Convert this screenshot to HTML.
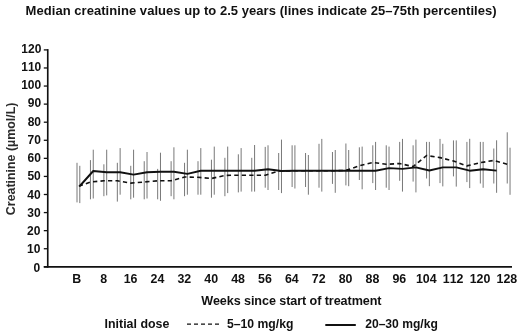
<!DOCTYPE html>
<html><head><meta charset="utf-8"><title>Median creatinine values</title>
<style>
html,body{margin:0;padding:0;background:#fff;}
body{width:520px;height:331px;overflow:hidden;}
svg{display:block;}
svg{filter:grayscale(1);}
text{font-family:"Liberation Sans",Arial,Helvetica,sans-serif;font-weight:bold;fill:#111111;}
</style></head><body>
<svg width="520" height="331" viewBox="0 0 520 331">
<rect width="520" height="331" fill="#ffffff"/>
<text x="25.6" y="14.9" font-size="13" textLength="471" lengthAdjust="spacing">Median creatinine values up to 2.5 years (lines indicate 25–75th percentiles)</text>
<g stroke="#787878" stroke-width="1" fill="none">
<line x1="77.00" y1="162.8" x2="77.00" y2="202.4"/>
<line x1="90.44" y1="160.1" x2="90.44" y2="199.3"/>
<line x1="103.89" y1="164.3" x2="103.89" y2="196.2"/>
<line x1="117.34" y1="162.8" x2="117.34" y2="201.6"/>
<line x1="130.78" y1="165.8" x2="130.78" y2="199.3"/>
<line x1="144.22" y1="161.2" x2="144.22" y2="199.3"/>
<line x1="157.67" y1="168.9" x2="157.67" y2="199.3"/>
<line x1="171.12" y1="161.2" x2="171.12" y2="196.2"/>
<line x1="184.56" y1="162.8" x2="184.56" y2="196.2"/>
<line x1="198.00" y1="161.2" x2="198.00" y2="194.7"/>
<line x1="211.45" y1="159.7" x2="211.45" y2="197.7"/>
<line x1="224.90" y1="157.8" x2="224.90" y2="196.2"/>
<line x1="238.34" y1="154.3" x2="238.34" y2="192.4"/>
<line x1="251.78" y1="157.8" x2="251.78" y2="191.6"/>
<line x1="265.23" y1="146.9" x2="265.23" y2="187.7"/>
<line x1="278.68" y1="153.0" x2="278.68" y2="190.0"/>
<line x1="292.12" y1="145.3" x2="292.12" y2="187.0"/>
<line x1="305.56" y1="153.0" x2="305.56" y2="187.0"/>
<line x1="319.01" y1="143.8" x2="319.01" y2="187.7"/>
<line x1="332.46" y1="152.0" x2="332.46" y2="183.9"/>
<line x1="345.90" y1="143.5" x2="345.90" y2="185.4"/>
<line x1="359.35" y1="147.3" x2="359.35" y2="180.0"/>
<line x1="372.79" y1="145.3" x2="372.79" y2="183.1"/>
<line x1="386.24" y1="145.3" x2="386.24" y2="187.7"/>
<line x1="399.68" y1="141.9" x2="399.68" y2="180.8"/>
<line x1="413.12" y1="145.3" x2="413.12" y2="181.6"/>
<line x1="426.57" y1="141.9" x2="426.57" y2="178.5"/>
<line x1="440.01" y1="138.9" x2="440.01" y2="183.1"/>
<line x1="453.46" y1="140.4" x2="453.46" y2="176.4"/>
<line x1="466.91" y1="141.9" x2="466.91" y2="182.1"/>
<line x1="480.35" y1="141.9" x2="480.35" y2="183.5"/>
<line x1="493.80" y1="148.5" x2="493.80" y2="183.5"/>
<line x1="507.24" y1="132.3" x2="507.24" y2="183.5"/>
<line x1="79.80" y1="165.8" x2="79.80" y2="203.1"/>
<line x1="93.25" y1="149.7" x2="93.25" y2="198.5"/>
<line x1="106.69" y1="149.7" x2="106.69" y2="195.4"/>
<line x1="120.13" y1="148.1" x2="120.13" y2="194.7"/>
<line x1="133.58" y1="149.7" x2="133.58" y2="197.7"/>
<line x1="147.02" y1="152.0" x2="147.02" y2="198.5"/>
<line x1="160.47" y1="152.7" x2="160.47" y2="200.8"/>
<line x1="173.92" y1="147.3" x2="173.92" y2="199.3"/>
<line x1="187.36" y1="149.7" x2="187.36" y2="194.7"/>
<line x1="200.81" y1="148.1" x2="200.81" y2="194.7"/>
<line x1="214.25" y1="146.6" x2="214.25" y2="194.7"/>
<line x1="227.69" y1="146.6" x2="227.69" y2="193.1"/>
<line x1="241.14" y1="148.1" x2="241.14" y2="191.6"/>
<line x1="254.58" y1="145.0" x2="254.58" y2="191.6"/>
<line x1="268.03" y1="145.3" x2="268.03" y2="190.0"/>
<line x1="281.48" y1="139.6" x2="281.48" y2="193.1"/>
<line x1="294.92" y1="145.3" x2="294.92" y2="188.5"/>
<line x1="308.37" y1="155.0" x2="308.37" y2="194.7"/>
<line x1="321.81" y1="138.9" x2="321.81" y2="191.6"/>
<line x1="335.25" y1="150.0" x2="335.25" y2="192.8"/>
<line x1="348.70" y1="150.0" x2="348.70" y2="186.2"/>
<line x1="362.15" y1="146.6" x2="362.15" y2="189.3"/>
<line x1="375.59" y1="141.9" x2="375.59" y2="190.0"/>
<line x1="389.04" y1="146.6" x2="389.04" y2="190.0"/>
<line x1="402.48" y1="138.9" x2="402.48" y2="191.6"/>
<line x1="415.93" y1="139.6" x2="415.93" y2="192.4"/>
<line x1="429.37" y1="141.9" x2="429.37" y2="186.2"/>
<line x1="442.81" y1="143.8" x2="442.81" y2="186.4"/>
<line x1="456.26" y1="140.4" x2="456.26" y2="186.6"/>
<line x1="469.71" y1="138.8" x2="469.71" y2="188.1"/>
<line x1="483.15" y1="141.9" x2="483.15" y2="187.8"/>
<line x1="496.60" y1="140.3" x2="496.60" y2="192.8"/>
<line x1="510.04" y1="147.7" x2="510.04" y2="194.8"/>
</g>
<polyline points="78.80,186.3 90.44,182.0 103.89,180.8 117.34,180.8 130.78,183.1 144.22,182.0 157.67,180.8 171.12,180.8 184.56,177.0 198.00,177.3 211.45,178.5 224.90,175.4 238.34,175.2 251.78,175.2 265.23,175.2 278.68,171.0 292.12,170.8 305.56,170.8 319.01,170.8 332.46,170.8 345.90,170.4 359.35,165.8 372.79,162.4 386.24,164.3 399.68,163.5 413.12,166.6 426.57,155.5 440.01,157.6 453.46,161.0 466.91,165.9 480.35,162.7 493.80,160.4 507.24,164.3" fill="none" stroke="#111111" stroke-width="1.6" stroke-dasharray="4.3 3.2" stroke-linejoin="round"/>
<polyline points="79.80,186.0 93.25,171.0 106.69,172.2 120.13,172.3 133.58,174.6 147.02,172.3 160.47,171.8 173.92,171.8 187.36,173.9 200.81,170.8 214.25,170.8 227.69,170.8 241.14,170.8 254.58,170.8 268.03,169.3 281.48,171.0 294.92,170.7 308.37,170.7 321.81,170.7 335.25,170.7 348.70,170.7 362.15,170.7 375.59,170.7 389.04,168.1 402.48,168.9 415.93,167.4 429.37,170.5 442.81,167.4 456.26,167.4 469.71,170.7 483.15,169.2 496.60,170.6" fill="none" stroke="#111111" stroke-width="1.9" stroke-linejoin="round" stroke-linecap="butt"/>
<g stroke="#111111" stroke-width="1.65" fill="none">
<line x1="47.75" y1="49.1" x2="47.75" y2="267.65"/>
<line x1="43.8" y1="266.8" x2="512" y2="266.8"/>
</g>
<g stroke="#111111" stroke-width="1.3" fill="none">
<line x1="43.8" y1="266.80" x2="47.5" y2="266.80"/>
<line x1="43.8" y1="248.73" x2="47.5" y2="248.73"/>
<line x1="43.8" y1="230.65" x2="47.5" y2="230.65"/>
<line x1="43.8" y1="212.58" x2="47.5" y2="212.58"/>
<line x1="43.8" y1="194.50" x2="47.5" y2="194.50"/>
<line x1="43.8" y1="176.43" x2="47.5" y2="176.43"/>
<line x1="43.8" y1="158.35" x2="47.5" y2="158.35"/>
<line x1="43.8" y1="140.28" x2="47.5" y2="140.28"/>
<line x1="43.8" y1="122.20" x2="47.5" y2="122.20"/>
<line x1="43.8" y1="104.12" x2="47.5" y2="104.12"/>
<line x1="43.8" y1="86.05" x2="47.5" y2="86.05"/>
<line x1="43.8" y1="67.97" x2="47.5" y2="67.97"/>
<line x1="43.8" y1="49.90" x2="47.5" y2="49.90"/>
</g>
<g font-size="12" style="font-kerning:none">
<text x="40.30" y="271.60" text-anchor="end">0</text>
<text x="40.39" y="253.35" text-anchor="end">10</text>
<text x="40.48" y="235.11" text-anchor="end">20</text>
<text x="40.57" y="216.86" text-anchor="end">30</text>
<text x="40.67" y="198.62" text-anchor="end">40</text>
<text x="40.76" y="180.37" text-anchor="end">50</text>
<text x="40.85" y="162.12" text-anchor="end">60</text>
<text x="40.94" y="143.88" text-anchor="end">70</text>
<text x="41.03" y="125.63" text-anchor="end">80</text>
<text x="41.12" y="107.39" text-anchor="end">90</text>
<text x="41.22" y="89.14" text-anchor="end">100</text>
<text x="41.31" y="70.89" text-anchor="end">110</text>
<text x="41.40" y="52.65" text-anchor="end">120</text>
<text x="76.80" y="282.6" text-anchor="middle" font-size="12.4">B</text>
<text x="103.68" y="282.6" text-anchor="middle" font-size="12.4">8</text>
<text x="130.56" y="282.6" text-anchor="middle" font-size="12.4">16</text>
<text x="157.44" y="282.6" text-anchor="middle" font-size="12.4">24</text>
<text x="184.32" y="282.6" text-anchor="middle" font-size="12.4">32</text>
<text x="211.20" y="282.6" text-anchor="middle" font-size="12.4">40</text>
<text x="238.08" y="282.6" text-anchor="middle" font-size="12.4">48</text>
<text x="264.96" y="282.6" text-anchor="middle" font-size="12.4">56</text>
<text x="291.84" y="282.6" text-anchor="middle" font-size="12.4">64</text>
<text x="318.72" y="282.6" text-anchor="middle" font-size="12.4">72</text>
<text x="345.60" y="282.6" text-anchor="middle" font-size="12.4">80</text>
<text x="372.48" y="282.6" text-anchor="middle" font-size="12.4">88</text>
<text x="399.36" y="282.6" text-anchor="middle" font-size="12.4">96</text>
<text x="426.24" y="282.6" text-anchor="middle" font-size="12.4">104</text>
<text x="453.12" y="282.6" text-anchor="middle" font-size="12.4">112</text>
<text x="480.00" y="282.6" text-anchor="middle" font-size="12.4">120</text>
<text x="506.88" y="282.6" text-anchor="middle" font-size="12.4">128</text>
</g>
<text transform="translate(14.6 158.9) rotate(-90)" text-anchor="middle" font-size="12.4" fill="#2b2b2b" style="fill:#2b2b2b">Creatinine (µmol/L)</text>
<text x="201.3" y="305.1" font-size="12.6" textLength="180.2" lengthAdjust="spacing">Weeks since start of treatment</text>
<text x="104.6" y="327.7" font-size="12.4">Initial dose</text>
<line x1="187" y1="324.2" x2="219" y2="324.2" stroke="#111111" stroke-width="1.25" stroke-dasharray="4 3"/>
<text x="227" y="327.7" font-size="12.2">5–10 mg/kg</text>
<line x1="325.3" y1="325" x2="355.8" y2="325" stroke="#111111" stroke-width="2"/>
<text x="365.2" y="327.6" font-size="12.1">20–30 mg/kg</text>
</svg>
</body></html>
